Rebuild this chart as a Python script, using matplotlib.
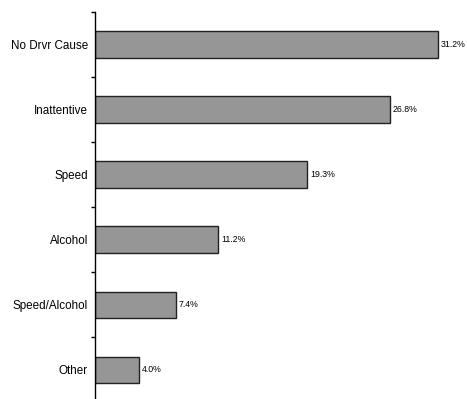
import matplotlib
matplotlib.use('Agg')
import matplotlib.pyplot as plt
import numpy as np

# Share of crashes by driver cause
causes = ['No Drvr Cause', 'Inattentive', 'Speed', 'Alcohol', 'Speed/Alcohol', 'Other']
shares = [31.2, 26.8, 19.3, 11.2, 7.4, 4.0]
value_labels = ['31.2%', '26.8%', '19.3%', '11.2%', '7.4%', '4.0%']

plt.rcParams['font.family'] = ['Liberation Sans', 'DejaVu Sans']

fig = plt.figure(figsize=(4.67, 3.99), dpi=100)
ax = fig.add_axes([95 / 467, -3 / 399, 365 / 467, 390 / 399])

y = np.arange(len(causes))[::-1]
bars = ax.barh(y, shares, height=0.4, color='#969696', edgecolor='#222222', linewidth=1.0)

for b, lab in zip(bars, value_labels):
    ax.text(b.get_width() + 0.25, b.get_y() + b.get_height() / 2, lab,
            va='center', ha='left', fontsize=6.3, color='black')

ax.set_xlim(0, 33.2)
ax.set_ylim(-0.5, len(causes) - 0.5)

ax.set_yticks(y)
ax.set_yticklabels(causes, fontsize=8.4)
ax.set_yticks(np.arange(-0.5, len(causes)), minor=True)
ax.tick_params(axis='y', which='major', length=0, pad=5)
ax.tick_params(axis='y', which='minor', length=3, width=1, color='black', direction='out')

for s in ['top', 'right', 'bottom']:
    ax.spines[s].set_visible(False)
ax.spines['left'].set_linewidth(1)
ax.set_xticks([])

fig.savefig('out.png', dpi=100)
